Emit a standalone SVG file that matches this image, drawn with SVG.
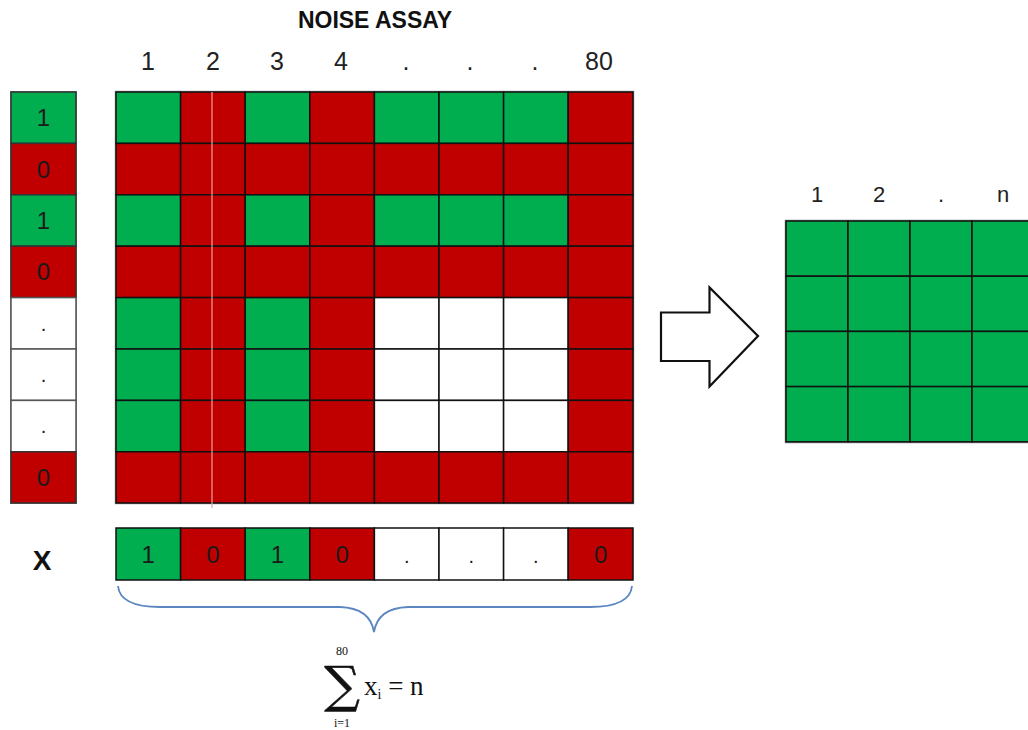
<svg xmlns="http://www.w3.org/2000/svg" width="1028" height="730" viewBox="0 0 1028 730">
<style>
.g{fill:#00AD4F}
.r{fill:#C00000}
.w{fill:#FFFFFF}
.c{stroke:#111;stroke-width:1.5}
.cl{stroke:#333;stroke-width:1.5}
.t{font-family:"Liberation Sans","Open Sans",sans-serif;font-size:25px;fill:#222;text-anchor:middle}
.rt{font-family:"Liberation Sans","Open Sans",sans-serif;font-size:22px;fill:#222;text-anchor:middle}
.ct{font-family:"Liberation Sans","Open Sans",sans-serif;font-size:24px;fill:#1a1a1a;text-anchor:middle}
.m{font-family:"DejaVu Serif","Liberation Serif",serif;fill:#111}
.ms{font-family:"Liberation Serif","DejaVu Serif",serif;fill:#111}
</style>
<rect width="1028" height="730" fill="#fff"/>
<g id="title"><text x="375" y="28" class="t" style="font-weight:bold;font-size:23px;fill:#111">NOISE ASSAY</text></g>
<g id="col-labels">
<text x="148" y="70" class="t">1</text>
<text x="213" y="70" class="t">2</text>
<text x="277" y="70" class="t">3</text>
<text x="341" y="70" class="t">4</text>
<text x="406" y="70" class="t">.</text>
<text x="470" y="70" class="t">.</text>
<text x="535" y="70" class="t">.</text>
<text x="599" y="70" class="t">80</text>
</g>
<g id="left-column">
<rect x="11" y="92" width="65" height="411" fill="none" stroke="#888" stroke-width="2"/>
<rect x="11" y="92" width="65" height="51.4" class="g cl"/>
<rect x="11" y="143.4" width="65" height="51.4" class="r cl"/>
<rect x="11" y="194.8" width="65" height="51.4" class="g cl"/>
<rect x="11" y="246.2" width="65" height="51.4" class="r cl"/>
<rect x="11" y="297.6" width="65" height="51.4" class="w cl" style="stroke:#555"/>
<rect x="11" y="349" width="65" height="51.4" class="w cl" style="stroke:#555"/>
<rect x="11" y="400.4" width="65" height="51.4" class="w cl" style="stroke:#555"/>
<rect x="11" y="451.8" width="65" height="51.2" class="r cl"/>
<text x="43.5" y="126" class="ct">1</text>
<text x="43.5" y="177.5" class="ct">0</text>
<text x="43.5" y="229" class="ct">1</text>
<text x="43.5" y="280" class="ct">0</text>
<text x="43.5" y="331" class="ct" style="font-size:20px">.</text>
<text x="43.5" y="382" class="ct" style="font-size:20px">.</text>
<text x="43.5" y="433" class="ct" style="font-size:20px">.</text>
<text x="43.5" y="486" class="ct">0</text>
</g>
<g id="main-grid">
<rect x="116" y="92" width="517" height="411" fill="none" stroke="#999" stroke-width="2.5"/>
<g class="c">
<rect x="116" y="92" width="64.6" height="51.4" class="g"/>
<rect x="180.6" y="92" width="64.6" height="51.4" class="r"/>
<rect x="245.2" y="92" width="64.6" height="51.4" class="g"/>
<rect x="309.8" y="92" width="64.6" height="51.4" class="r"/>
<rect x="374.4" y="92" width="64.6" height="51.4" class="g"/>
<rect x="439" y="92" width="64.6" height="51.4" class="g"/>
<rect x="503.6" y="92" width="64.6" height="51.4" class="g"/>
<rect x="568.2" y="92" width="64.8" height="51.4" class="r"/>
<rect x="116" y="143.4" width="64.6" height="51.4" class="r"/>
<rect x="180.6" y="143.4" width="64.6" height="51.4" class="r"/>
<rect x="245.2" y="143.4" width="64.6" height="51.4" class="r"/>
<rect x="309.8" y="143.4" width="64.6" height="51.4" class="r"/>
<rect x="374.4" y="143.4" width="64.6" height="51.4" class="r"/>
<rect x="439" y="143.4" width="64.6" height="51.4" class="r"/>
<rect x="503.6" y="143.4" width="64.6" height="51.4" class="r"/>
<rect x="568.2" y="143.4" width="64.8" height="51.4" class="r"/>
<rect x="116" y="194.8" width="64.6" height="51.4" class="g"/>
<rect x="180.6" y="194.8" width="64.6" height="51.4" class="r"/>
<rect x="245.2" y="194.8" width="64.6" height="51.4" class="g"/>
<rect x="309.8" y="194.8" width="64.6" height="51.4" class="r"/>
<rect x="374.4" y="194.8" width="64.6" height="51.4" class="g"/>
<rect x="439" y="194.8" width="64.6" height="51.4" class="g"/>
<rect x="503.6" y="194.8" width="64.6" height="51.4" class="g"/>
<rect x="568.2" y="194.8" width="64.8" height="51.4" class="r"/>
<rect x="116" y="246.2" width="64.6" height="51.4" class="r"/>
<rect x="180.6" y="246.2" width="64.6" height="51.4" class="r"/>
<rect x="245.2" y="246.2" width="64.6" height="51.4" class="r"/>
<rect x="309.8" y="246.2" width="64.6" height="51.4" class="r"/>
<rect x="374.4" y="246.2" width="64.6" height="51.4" class="r"/>
<rect x="439" y="246.2" width="64.6" height="51.4" class="r"/>
<rect x="503.6" y="246.2" width="64.6" height="51.4" class="r"/>
<rect x="568.2" y="246.2" width="64.8" height="51.4" class="r"/>
<rect x="116" y="297.6" width="64.6" height="51.4" class="g"/>
<rect x="180.6" y="297.6" width="64.6" height="51.4" class="r"/>
<rect x="245.2" y="297.6" width="64.6" height="51.4" class="g"/>
<rect x="309.8" y="297.6" width="64.6" height="51.4" class="r"/>
<rect x="374.4" y="297.6" width="64.6" height="51.4" class="w"/>
<rect x="439" y="297.6" width="64.6" height="51.4" class="w"/>
<rect x="503.6" y="297.6" width="64.6" height="51.4" class="w"/>
<rect x="568.2" y="297.6" width="64.8" height="51.4" class="r"/>
<rect x="116" y="349" width="64.6" height="51.4" class="g"/>
<rect x="180.6" y="349" width="64.6" height="51.4" class="r"/>
<rect x="245.2" y="349" width="64.6" height="51.4" class="g"/>
<rect x="309.8" y="349" width="64.6" height="51.4" class="r"/>
<rect x="374.4" y="349" width="64.6" height="51.4" class="w"/>
<rect x="439" y="349" width="64.6" height="51.4" class="w"/>
<rect x="503.6" y="349" width="64.6" height="51.4" class="w"/>
<rect x="568.2" y="349" width="64.8" height="51.4" class="r"/>
<rect x="116" y="400.4" width="64.6" height="51.4" class="g"/>
<rect x="180.6" y="400.4" width="64.6" height="51.4" class="r"/>
<rect x="245.2" y="400.4" width="64.6" height="51.4" class="g"/>
<rect x="309.8" y="400.4" width="64.6" height="51.4" class="r"/>
<rect x="374.4" y="400.4" width="64.6" height="51.4" class="w"/>
<rect x="439" y="400.4" width="64.6" height="51.4" class="w"/>
<rect x="503.6" y="400.4" width="64.6" height="51.4" class="w"/>
<rect x="568.2" y="400.4" width="64.8" height="51.4" class="r"/>
<rect x="116" y="451.8" width="64.6" height="51.2" class="r"/>
<rect x="180.6" y="451.8" width="64.6" height="51.2" class="r"/>
<rect x="245.2" y="451.8" width="64.6" height="51.2" class="r"/>
<rect x="309.8" y="451.8" width="64.6" height="51.2" class="r"/>
<rect x="374.4" y="451.8" width="64.6" height="51.2" class="r"/>
<rect x="439" y="451.8" width="64.6" height="51.2" class="r"/>
<rect x="503.6" y="451.8" width="64.6" height="51.2" class="r"/>
<rect x="568.2" y="451.8" width="64.8" height="51.2" class="r"/>
</g>
<line x1="212" y1="92" x2="212" y2="508" stroke="#E8A0A0" stroke-opacity="0.6" stroke-width="2"/>
</g>
<g id="x-label"><text x="42" y="570" class="t" style="font-weight:bold;font-size:28px;fill:#111">X</text></g>
<g id="x-row">
<g class="c">
<rect x="116" y="528" width="64.6" height="52" class="g"/>
<rect x="180.6" y="528" width="64.6" height="52" class="r"/>
<rect x="245.2" y="528" width="64.6" height="52" class="g"/>
<rect x="309.8" y="528" width="64.6" height="52" class="r"/>
<rect x="374.4" y="528" width="64.6" height="52" class="w"/>
<rect x="439" y="528" width="64.6" height="52" class="w"/>
<rect x="503.6" y="528" width="64.6" height="52" class="w"/>
<rect x="568.2" y="528" width="64.8" height="52" class="r"/>
</g>
<text x="148.3" y="563" class="ct">1</text>
<text x="212.9" y="563" class="ct">0</text>
<text x="277.5" y="563" class="ct">1</text>
<text x="342.1" y="563" class="ct">0</text>
<text x="406.7" y="563" class="ct" style="font-size:20px">.</text>
<text x="471.3" y="563" class="ct" style="font-size:20px">.</text>
<text x="535.9" y="563" class="ct" style="font-size:20px">.</text>
<text x="600.6" y="563" class="ct">0</text>
</g>
<g id="connectors">
<path d="M118,586 Q120,607 160,607 L340,607 Q370,608 374,632 Q378,608 408,607 L590,607 Q630,607 632,586" fill="none" stroke="#5B86C0" stroke-width="1.8"/>
<path d="M661,312.5 L709.5,312.5 L709.5,287.5 L758,336 L709.5,386.5 L709.5,361 L661,361 Z" fill="#fff" stroke="#111" stroke-width="2.2" stroke-linejoin="miter"/>
</g>
<g id="formula">
<text x="342" y="702" class="m" style="font-size:50px;text-anchor:middle;stroke:#111;stroke-width:0.5">∑</text>
<text x="342" y="655" class="ms" style="font-size:12px;text-anchor:middle">80</text>
<text x="342" y="727" class="ms" style="font-size:12px;text-anchor:middle">i=1</text>
<text x="364" y="695" class="ms" style="font-size:27px">x<tspan dy="4" style="font-size:14px">i</tspan><tspan dy="-4"> = n</tspan></text>
</g>
<g id="result-labels">
<text x="817" y="202" class="rt">1</text>
<text x="879" y="202" class="rt">2</text>
<text x="941" y="202" class="rt">.</text>
<text x="1003" y="202" class="rt">n</text>
</g>
<g id="result-grid">
<rect x="786" y="221" width="250" height="221" class="g" stroke="#888" stroke-width="2.5"/>
<g class="c">
<rect x="786" y="221" width="62" height="55.2" class="g"/>
<rect x="848" y="221" width="62" height="55.2" class="g"/>
<rect x="910" y="221" width="62" height="55.2" class="g"/>
<rect x="972" y="221" width="62" height="55.2" class="g"/>
<rect x="786" y="276.2" width="62" height="55.2" class="g"/>
<rect x="848" y="276.2" width="62" height="55.2" class="g"/>
<rect x="910" y="276.2" width="62" height="55.2" class="g"/>
<rect x="972" y="276.2" width="62" height="55.2" class="g"/>
<rect x="786" y="331.4" width="62" height="55.2" class="g"/>
<rect x="848" y="331.4" width="62" height="55.2" class="g"/>
<rect x="910" y="331.4" width="62" height="55.2" class="g"/>
<rect x="972" y="331.4" width="62" height="55.2" class="g"/>
<rect x="786" y="386.6" width="62" height="55.2" class="g"/>
<rect x="848" y="386.6" width="62" height="55.2" class="g"/>
<rect x="910" y="386.6" width="62" height="55.2" class="g"/>
<rect x="972" y="386.6" width="62" height="55.2" class="g"/>
</g>
</g>
</svg>
